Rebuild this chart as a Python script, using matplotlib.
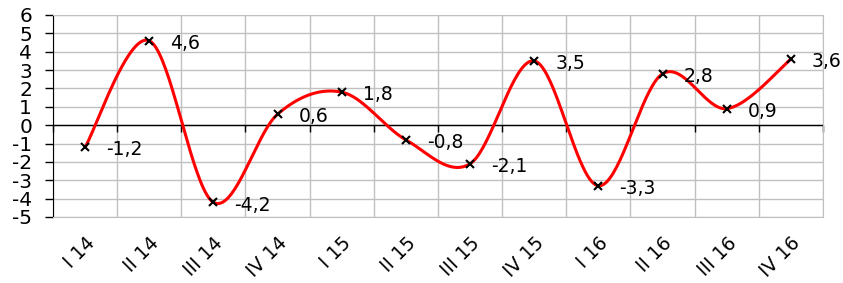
import numpy as np
import matplotlib
matplotlib.use("Agg")
import matplotlib.pyplot as plt
from matplotlib.markers import TICKDOWN

# data
quarters = ["I 14", "II 14", "III 14", "IV 14", "I 15", "II 15",
            "III 15", "IV 15", "I 16", "II 16", "III 16", "IV 16"]
values = [-1.2, 4.6, -4.2, 0.6, 1.8, -0.8, -2.1, 3.5, -3.3, 2.8, 0.9, 3.6]

plt.rcParams["font.family"] = ["DejaVu Sans"]
plt.rcParams["axes.unicode_minus"] = False


def smooth(x, y, n=40):
    # Excel-like smoothed line (Catmull-Rom as cubic Bezier)
    x = np.asarray(x, float)
    y = np.asarray(y, float)
    px = np.concatenate([[x[0]], x, [x[-1]]])
    py = np.concatenate([[y[0]], y, [y[-1]]])
    t = np.linspace(0, 1, n)
    xs, ys = [], []
    for i in range(1, len(px) - 2):
        p0 = np.array([px[i], py[i]])
        p3 = np.array([px[i + 1], py[i + 1]])
        c1 = p0 + (p3 - np.array([px[i - 1], py[i - 1]])) / 6
        c2 = p3 - (np.array([px[i + 2], py[i + 2]]) - p0) / 6
        pts = ((1 - t) ** 3)[:, None] * p0 + (3 * (1 - t) ** 2 * t)[:, None] * c1 \
            + (3 * (1 - t) * t ** 2)[:, None] * c2 + (t ** 3)[:, None] * p3
        xs.append(pts[:, 0])
        ys.append(pts[:, 1])
    return np.concatenate(xs), np.concatenate(ys)


fig = plt.figure(figsize=(8.43, 2.83), dpi=100)
ax = fig.add_axes([53 / 843, 1 - 217 / 283, 770 / 843, 202 / 283])

xpos = np.arange(len(quarters)) + 0.5
bounds = np.arange(len(quarters) + 1)

# zero axis with small tick marks
ax.axhline(0, color="black", lw=1, zorder=2)
ax.plot(bounds, np.zeros(len(bounds)), ls="none", marker=TICKDOWN,
        ms=5, mew=1, color="black", zorder=2, clip_on=False)

sx, sy = smooth(xpos, values)
ax.plot(sx, sy, color="#ff0000", lw=2.2, zorder=3)
ax.plot(xpos, values, "x", color="black", ms=6, mew=1.5, zorder=4)

for x, v in zip(xpos, values):
    ax.annotate(f"{v:.1f}".replace(".", ","), (x, v), xytext=(15, -2),
                textcoords="offset points", va="center", ha="left", fontsize=13.5)

ax.set_xlim(0, len(quarters))
ax.set_ylim(-5, 6)
ax.set_yticks(range(-5, 7))
ax.set_xticks(xpos)
ax.set_xticklabels(quarters, rotation=45, ha="right", rotation_mode="anchor", fontsize=13.5)
ax.set_xticks(bounds, minor=True)
ax.tick_params(axis="x", which="both", length=0, pad=12)
ax.tick_params(axis="y", length=6, width=1, labelsize=14.5, pad=9)

ax.grid(True, which="minor", axis="x", color="#c0c0c0", lw=1)
ax.grid(True, which="major", axis="y", color="#c0c0c0", lw=1)
ax.set_axisbelow(True)

for s in ["top", "right", "bottom"]:
    ax.spines[s].set_color("#c0c0c0")
ax.spines["left"].set_color("black")

fig.savefig("out.png", dpi=100)
